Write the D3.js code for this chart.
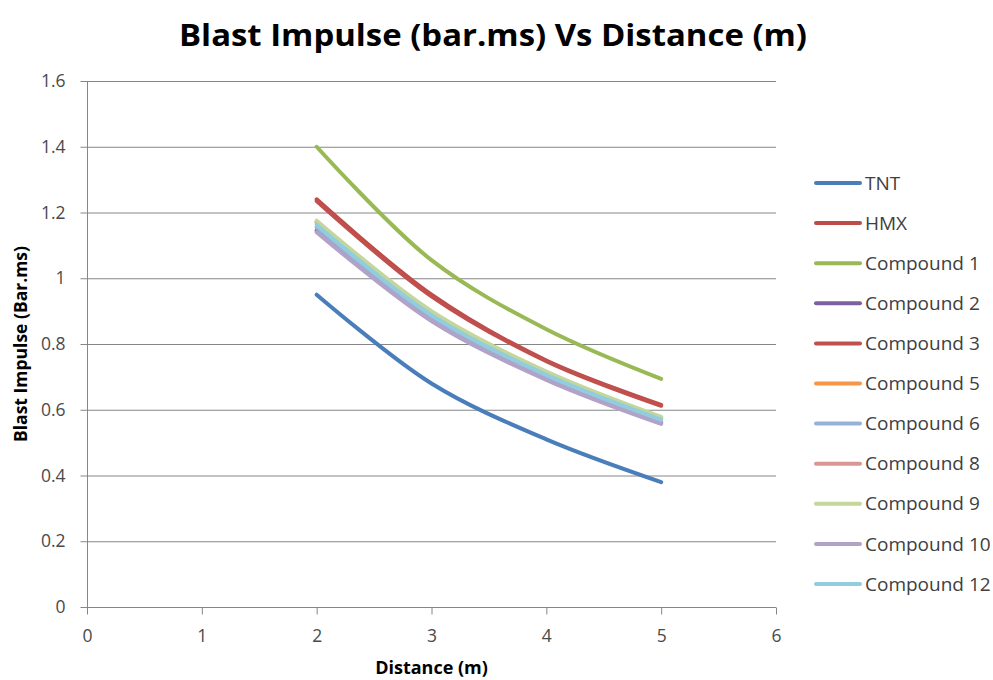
<!DOCTYPE html>
<html>
<head>
<meta charset="utf-8">
<script src="https://cdn.jsdelivr.net/npm/d3@7"></script>
<style>
  html, body { margin: 0; padding: 0; background: #fff; }
  svg { display: block; font-family: "Open Sans", "DejaVu Sans", sans-serif; }
</style>
</head>
<body>
<svg id="chart" width="993" height="680"></svg>
<script>
// ---- Data ----
const distances = [2, 3, 4, 5];
const seriesNames = ["TNT", "HMX", "Compound 1", "Compound 2", "Compound 3", "Compound 5",
                     "Compound 6", "Compound 8", "Compound 9", "Compound 10", "Compound 12"];
const tnt        = [0.950, 0.680, 0.510, 0.380];
const hmx        = [1.240, 0.950, 0.750, 0.615];
const compound1  = [1.400, 1.055, 0.845, 0.694];
const compound2  = [1.145, 0.875, 0.695, 0.560];
const compound3  = [1.235, 0.945, 0.748, 0.612];
const compound5  = [1.172, 0.897, 0.714, 0.576];
const compound6  = [1.155, 0.882, 0.701, 0.566];
const compound8  = [1.170, 0.895, 0.712, 0.575];
const compound9  = [1.175, 0.900, 0.716, 0.578];
const compound10 = [1.140, 0.870, 0.691, 0.557];
const compound12 = [1.162, 0.888, 0.706, 0.570];
const seriesValues = [tnt, hmx, compound1, compound2, compound3, compound5,
                      compound6, compound8, compound9, compound10, compound12];
const seriesColors = ["#4A7EBB", "#BE4B48", "#98B954", "#7D60A0", "#C0504D", "#F79646",
                      "#95B3D7", "#D99694", "#C3D69B", "#B3A2C7", "#93CDDD"];
const xTicks = [0, 1, 2, 3, 4, 5, 6];
const yTicks = [0, 0.2, 0.4, 0.6, 0.8, 1.0, 1.2, 1.4, 1.6];
const titleText = "Blast Impulse (bar.ms) Vs Distance (m)";
const xTitle = "Distance (m)";
const yTitle = "Blast Impulse (Bar.ms)";

// ---- Layout ----
const svg = d3.select("#chart");
const plot = { left: 87, right: 776, top: 81, bottom: 607 };
const x = d3.scaleLinear().domain([0, 6]).range([plot.left, plot.right]);
const y = d3.scaleLinear().domain([0, 1.6]).range([plot.bottom, plot.top]);
const axisColor = "#868686";

// gridlines
svg.append("g").selectAll("line").data(yTicks.filter(t => t > 0)).join("line")
  .attr("x1", plot.left).attr("x2", plot.right)
  .attr("y1", d => y(d) + 0.5).attr("y2", d => y(d) + 0.5)
  .attr("stroke", axisColor).attr("stroke-width", 1);

// axes
const fmt = d => (d === 0 || d === 1) ? String(d) : d3.format(".1f")(d);
const yAxis = svg.append("g").attr("transform", `translate(${plot.left + 0.5},0)`)
  .call(d3.axisLeft(y).tickValues(yTicks).tickFormat(fmt).tickSize(7).tickPadding(15));
const xAxis = svg.append("g").attr("transform", `translate(0,${plot.bottom + 0.5})`)
  .call(d3.axisBottom(x).tickValues(xTicks).tickFormat(d3.format("d")).tickSize(7).tickPadding(15));
[xAxis, yAxis].forEach(g => {
  g.select(".domain").attr("stroke", axisColor);
  g.selectAll(".tick line").attr("stroke", axisColor);
  g.selectAll(".tick text").attr("fill", "#4a4a4a").attr("font-size", 17.5)
    .attr("font-family", "'Open Sans', sans-serif");
});
yAxis.select(".domain").attr("d", `M0,${plot.top}V${plot.bottom}`);
xAxis.select(".domain").attr("d", `M${plot.left},0H${plot.right}`);

// lines
const line = d3.line().x(d => x(d[0])).y(d => y(d[1])).curve(d3.curveCatmullRom.alpha(0.5));
seriesNames.forEach((name, i) => {
  const pts = distances.map((dx, j) => [dx, seriesValues[i][j]]);
  svg.append("path").datum(pts).attr("d", line)
    .attr("fill", "none").attr("stroke", seriesColors[i])
    .attr("stroke-width", 4).attr("stroke-linecap", "round");
});

// title
svg.append("text").attr("x", 493).attr("y", 46).attr("text-anchor", "middle")
  .attr("font-size", 31).attr("font-weight", "bold").attr("fill", "#000")
  .attr("textLength", 628).attr("lengthAdjust", "spacingAndGlyphs")
  .text(titleText);

// axis titles
svg.append("text").attr("x", x(3)).attr("y", 674).attr("text-anchor", "middle")
  .attr("font-size", 18).attr("font-weight", "bold").attr("fill", "#000")
  .text(xTitle);
svg.append("text").attr("transform", `translate(27,${(plot.top + plot.bottom) / 2}) rotate(-90)`)
  .attr("text-anchor", "middle").attr("font-size", 17.5).attr("font-weight", "bold").attr("fill", "#000")
  .text(yTitle);

// legend
const legend = svg.append("g");
const legY = d3.scalePoint().domain(seriesNames).range([183, 584]);
seriesNames.forEach((name, i) => {
  const yy = legY(name);
  legend.append("line").attr("x1", 816).attr("x2", 860).attr("y1", yy).attr("y2", yy)
    .attr("stroke", seriesColors[i]).attr("stroke-width", 4).attr("stroke-linecap", "round");
  legend.append("text").attr("x", 865).attr("y", yy).attr("dy", "0.35em")
    .attr("font-size", 19).attr("fill", "#404040").text(name);
});
</script>
</body>
</html>
